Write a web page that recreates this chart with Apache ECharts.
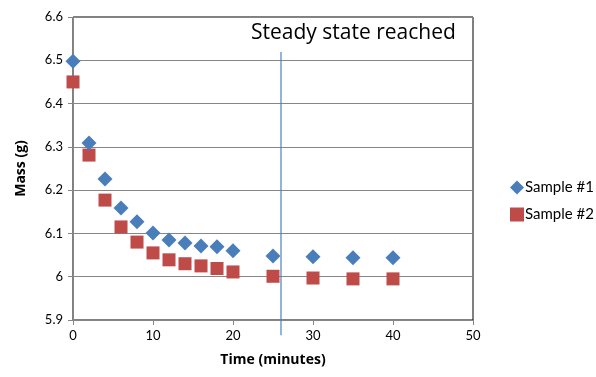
<!DOCTYPE html>
<html><head><meta charset="utf-8">
<script src="https://cdn.jsdelivr.net/npm/echarts@6/dist/echarts.min.js"></script>
<style>html,body{margin:0;padding:0;background:#fff}#c{width:596px;height:377px}</style>
</head><body><div id="c"></div>
<script>
var times = [0, 2, 4, 6, 8, 10, 12, 14, 16, 18, 20, 25, 30, 35, 40];
var sample1 = [6.498, 6.309, 6.226, 6.159, 6.127, 6.101, 6.085, 6.078, 6.071, 6.069, 6.060, 6.048, 6.046, 6.044, 6.044];
var sample2 = [6.450, 6.281, 6.177, 6.115, 6.080, 6.055, 6.039, 6.030, 6.025, 6.019, 6.011, 6.001, 5.997, 5.995, 5.995];
var steadyLineX = [26, 26];
var steadyLineY = [6.519, 5.865];
var annotation = 'Steady state reached';
var seriesNames = ['Sample #1', 'Sample #2'];

var font = 'Lato, "Open Sans", sans-serif';
var font2 = '"Open Sans", Lato, sans-serif';
function pairs(xs, ys){ return xs.map(function(x,i){ return [x, ys[i]]; }); }

var chart = echarts.init(document.getElementById('c'), null, {renderer:'canvas'});
chart.setOption({
  animation: false,
  textStyle: {fontFamily: font},
  grid: {left: 73, right: 123, top: 17, bottom: 57, show: true, borderColor: '#000', borderWidth: 1},
  legend: {
    orient: 'vertical', left: 505, top: 175, itemGap: 12, itemWidth: 14, itemHeight: 14,
    data: [{name: seriesNames[0], icon: 'diamond'}, {name: seriesNames[1], icon: 'rect'}],
    textStyle: {fontFamily: font, fontSize: 15, color: '#000', padding: [0,0,0,-4]}
  },
  xAxis: {
    type: 'value', min: 0, max: 50, interval: 10,
    name: 'Time (minutes)', nameLocation: 'middle', nameGap: 33,
    nameTextStyle: {fontFamily: font2, fontSize: 14, fontWeight: 'bold', color: '#000'},
    axisLine: {lineStyle: {color: '#868686'}},
    axisTick: {show: true, length: 5, lineStyle: {color: '#868686'}},
    axisLabel: {fontSize: 13, color: '#000', margin: 9},
    splitLine: {show: false}
  },
  yAxis: {
    type: 'value', min: 5.9, max: 6.6, interval: 0.1,
    name: 'Mass (g)', nameLocation: 'middle', nameGap: 45,
    nameTextStyle: {fontFamily: font2, fontSize: 14, fontWeight: 'bold', color: '#000'},
    axisLine: {show: true, lineStyle: {color: '#868686'}},
    axisTick: {show: true, length: 5, lineStyle: {color: '#868686'}},
    axisLabel: {fontSize: 13, color: '#000', margin: 10, formatter: function(v){ return String(parseFloat(v.toFixed(1))); }},
    splitLine: {show: true, lineStyle: {color: '#868686', width: 1}}
  },
  series: [
    {
      name: 'steady', type: 'line', data: pairs(steadyLineX, steadyLineY), clip: false,
      symbol: 'none', lineStyle: {color: '#4f81bd', width: 1.2}, silent: true, z: 1
    },
    {
      name: seriesNames[0], type: 'scatter', data: pairs(times, sample1),
      symbol: 'diamond', symbolSize: 15, itemStyle: {color: '#4a7ebb', opacity: 1}, z: 3
    },
    {
      name: seriesNames[1], type: 'scatter', data: pairs(times, sample2),
      symbol: 'rect', symbolSize: 13, itemStyle: {color: '#be4b48', opacity: 1}, z: 2
    }
  ],
  graphic: [{
    type: 'text', x: 251, y: 33,
    style: {text: annotation, fontFamily: font2, fontSize: 21, fill: '#000', verticalAlign: 'middle'}
  }]
});
</script></body></html>
